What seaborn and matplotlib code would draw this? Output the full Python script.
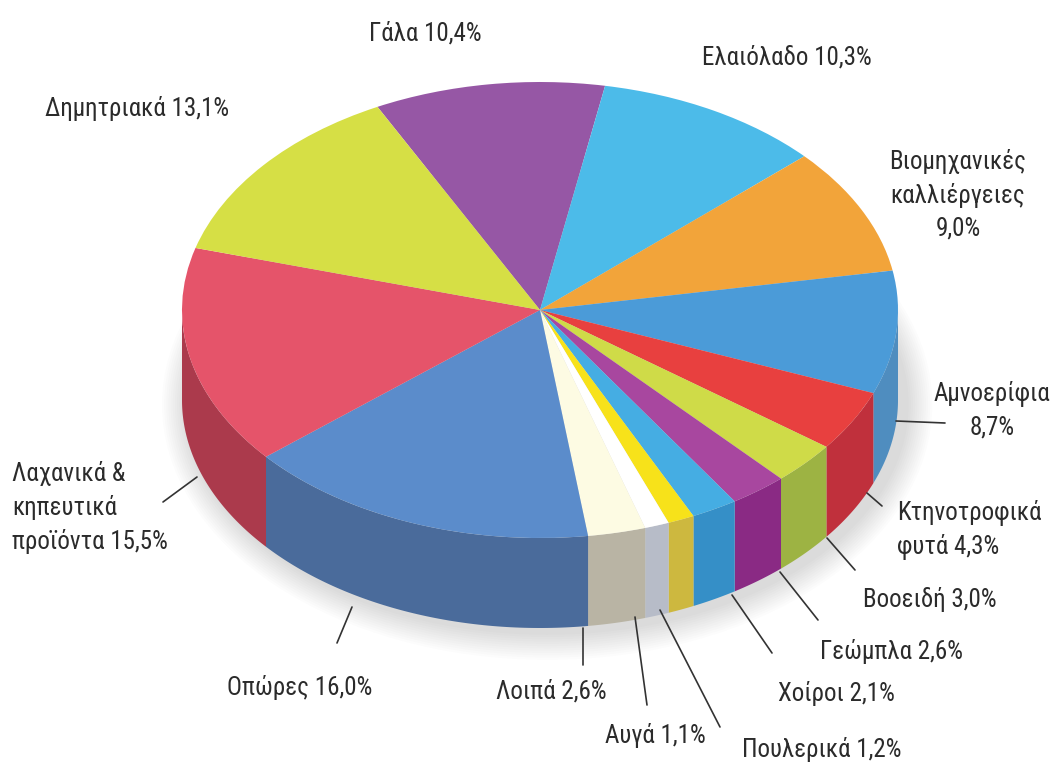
import numpy as np
import matplotlib
matplotlib.use("Agg")
import matplotlib.pyplot as plt
from matplotlib import font_manager
from matplotlib.patches import Ellipse
import seaborn as sns

# --- data (clockwise from the top) ---
labels = ["Γάλα", "Ελαιόλαδο", "Βιομηχανικές καλλιέργειες", "Αμνοερίφια",
          "Κτηνοτροφικά φυτά", "Βοοειδή", "Γεώμπλα", "Χοίροι", "Πουλερικά",
          "Αυγά", "Λοιπά", "Οπώρες", "Λαχανικά & κηπευτικά προϊόντα", "Δημητριακά"]
shares = [10.4, 10.3, 9.0, 8.7, 4.3, 3.0, 2.6, 2.1, 1.2, 1.1, 2.6, 16.0, 15.5, 13.1]
label_texts = ["Γάλα 10,4%", "Ελαιόλαδο 10,3%", "Βιομηχανικές\nκαλλιέργειες\n9,0%",
               "Αμνοερίφια\n8,7%", "Κτηνοτροφικά\nφυτά 4,3%", "Βοοειδή 3,0%",
               "Γεώμπλα 2,6%", "Χοίροι 2,1%", "Πουλερικά 1,2%", "Αυγά 1,1%",
               "Λοιπά 2,6%", "Οπώρες 16,0%", "Λαχανικά &\nκηπευτικά\nπροϊόντα 15,5%",
               "Δημητριακά 13,1%"]

top_colors = ["#9657a5", "#4cbbe9", "#f2a43a", "#4b9bd8", "#e8403f", "#cfdb48",
              "#a8479f", "#45ade3", "#f7e21a", "#ffffff", "#fdfbe3", "#5b8ccb",
              "#e5546a", "#d6df45"]
side_colors = ["#76437f", "#3a93b8", "#c2822e", "#4f8dbf", "#c0303c", "#9db343",
               "#8a2a84", "#358fc7", "#cdb83f", "#b7bcc8", "#b9b4a4", "#4a6b9b",
               "#ab3a4c", "#a8b038"]

# --- layout (pixels of the 1051x774 picture) ---
W, H = 1051, 774
CX, CY, RX, RY = 540, 310, 358, 228
DEPTH = 90 / RY

# label anchor (x, y, horizontal alignment) and leader line (x0, y0, x1, y1)
label_pos = [(425, 33, "center"), (787, 58, "center"), (958, 195, "center"),
             (992, 410, "center"), (897, 530, "left"), (863, 600, "left"),
             (820, 652, "left"), (778, 693, "left"), (742, 750, "left"),
             (655, 735, "center"), (551, 692, "center"), (300, 688, "center"),
             (12, 507, "left"), (45, 108, "left")]
leaders = [None, None, None, (896, 421, 945, 423), (867, 493, 882, 506),
           (827, 538, 855, 570), (780, 572, 818, 620), (732, 595, 772, 653),
           (660, 610, 720, 727), (635, 617, 647, 705), (583, 628, 583, 665),
           (352, 607, 337, 643), (197, 477, 163, 502), None]


def to_data(x, y):
    return (x - CX) / RX, (CY - y) / RY


def pick_font():
    # prefer a narrow face with Greek glyphs, like the original
    fonts = font_manager.fontManager.ttflist
    names = {f.name for f in fonts}
    for n in ["Liberation Sans Narrow", "Roboto Condensed", "Open Sans Condensed",
              "Noto Sans Condensed", "DejaVu Sans Condensed"]:
        if n in names:
            return n, "normal", 18
    for n in ["Noto Sans", "DejaVu Sans", "Open Sans", "Roboto"]:
        for f in fonts:
            if f.name == n and str(f.stretch) in ("condensed", "semi-condensed", "75", "87"):
                return n, "condensed", 18
    return "Roboto", "normal", 16


sns.set_theme(style="white")
family, stretch, fsize = pick_font()
plt.rcParams["font.family"] = [family, "DejaVu Sans"]

fig = plt.figure(figsize=(W / 100, H / 100), dpi=100)
ax = fig.add_axes([0, 0, 1, 1])

wedges, _ = ax.pie(shares, colors=top_colors, startangle=117, counterclock=False,
                   radius=1.0, center=(0, 0),
                   wedgeprops=dict(linewidth=0, zorder=3))

# side walls of the front half
for w, sc in zip(wedges, side_colors):
    t1, t2 = w.theta1, w.theta2
    for k in (-360, 0, 360):
        a, b = max(t1 + k, 180), min(t2 + k, 360)
        if b > a:
            t = np.radians(np.linspace(a, b, 80))
            xs = np.concatenate([np.cos(t), np.cos(t[::-1])])
            ys = np.concatenate([np.sin(t), np.sin(t[::-1]) - DEPTH])
            ax.fill(xs, ys, color=sc, lw=0, zorder=2)

# soft shadow under the pie
for i in range(12):
    ax.add_patch(Ellipse((0.02, -DEPTH - 0.02), 2.02 + i * 0.012, 2.02 + i * 0.02,
                         color="#000000", alpha=0.012, lw=0, zorder=1))

# labels and leader lines
for txt, (lx, ly, ha), ld in zip(label_texts, label_pos, leaders):
    x, y = to_data(lx, ly)
    ax.text(x, y, txt, ha=ha, va="center", fontsize=fsize, fontstretch=stretch,
            color="#2b2b2b", linespacing=1.45, zorder=5)
    if ld is not None:
        x0, y0 = to_data(ld[0], ld[1])
        x1, y1 = to_data(ld[2], ld[3])
        ax.plot([x0, x1], [y0, y1], color="#333333", lw=1.2, zorder=4)

ax.set_aspect("auto")
ax.set_xlim(-CX / RX, (W - CX) / RX)
ax.set_ylim(-(H - CY) / RY, CY / RY)
ax.axis("off")

fig.savefig("out.png", dpi=100, facecolor="white")
plt.close(fig)
